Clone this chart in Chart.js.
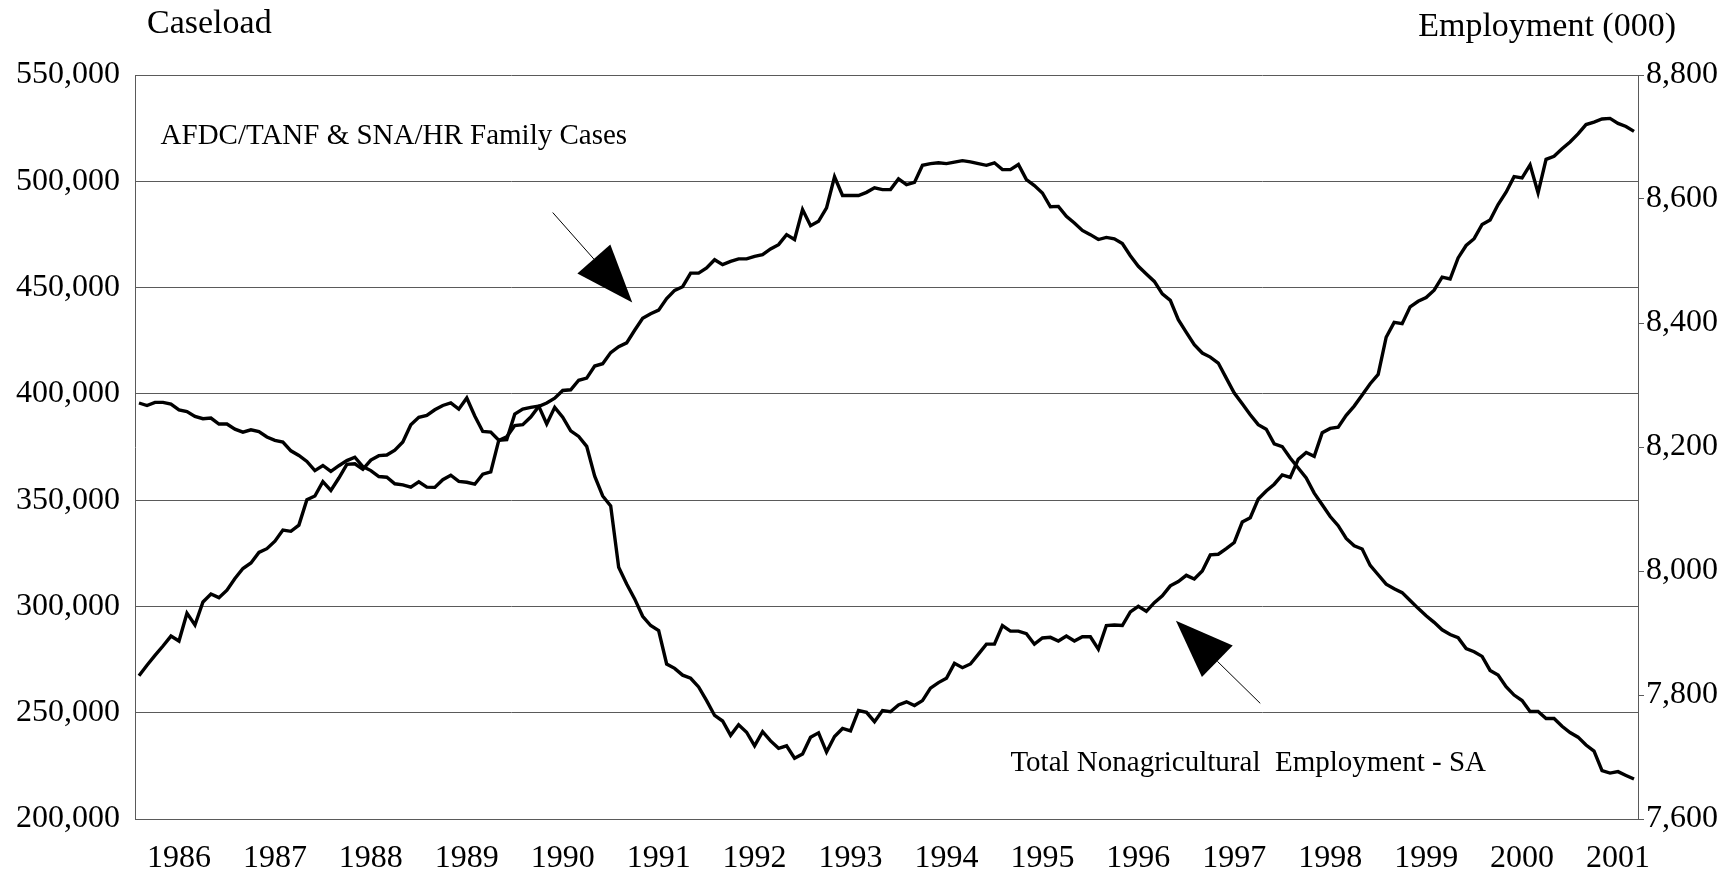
<!DOCTYPE html>
<html lang="en">

<head>
	<meta charset="UTF-8">
	<title>Caseload vs Employment</title>
	<script src="https://cdn.jsdelivr.net/npm/chart.js"></script>
	<style>
		html, body { margin: 0; padding: 0; background: #fff; }
		canvas { display: block; }
	</style>
</head>

<body>
	<canvas id="grafico" width="1735" height="872"></canvas>

	<script>
		// monthly data, first month is Aug 1985 (month index 7)
		const startYear = 1985;
		const startMonth = 7;

		// AFDC/TANF & SNA/HR family cases (left axis)
		const caseload = [
			395700, 394500, 396000, 396000, 395200, 392500, 391700, 389400, 388300, 388600,
			385800, 385800, 383400, 382000, 383100, 382300, 379700, 378100, 377300, 373200,
			371000, 368200, 363900, 366300, 363500, 366200, 368600, 370200, 365800, 363900,
			361100, 360800, 357700, 357200, 356100, 358600, 356100, 356000, 359600, 361700,
			358800, 358400, 357500, 362200, 363300, 378100, 379800, 385100, 385500, 389100,
			394100, 395700, 398000, 401600, 401900, 406400, 407400, 413100, 414200, 419400,
			422200, 424000, 429900, 435500, 437700, 439400, 444800, 448700, 450400, 456800,
			456800, 459200, 463100, 460800, 462300, 463500, 463500, 464700, 465500, 468200,
			470200, 474900, 472600, 486700, 479100, 481200, 487500, 502100, 493300, 493300,
			493300, 494800, 496900, 496100, 496100, 501100, 498400, 499500, 507500, 508300,
			508700, 508300, 509000, 509700, 509100, 508300, 507500, 508700, 505500, 505500,
			507900, 500800, 498000, 494500, 488000, 488200, 483500, 480400, 476900, 474900,
			472600, 473600, 472900, 470700, 465000, 460000, 456400, 452900, 447000, 444000,
			434900, 428900, 423100, 419200, 417300, 414500, 407400, 400400, 395300, 390200,
			385500, 383400, 376500, 375200, 369800, 365100, 360400, 353300, 347800, 342300,
			338000, 332000, 328500, 327000, 319300, 314900, 310500, 308300, 306500, 302800,
			299100, 295600, 292500, 289000, 286800, 285300, 280200, 278700, 276500, 269900,
			267700, 262200, 258300, 255700, 250600, 250600, 247300, 247300, 243600, 240700,
			238500, 234800, 231900, 222800, 221600, 222300, 220500, 218800
		];

		// total nonagricultural employment - SA, thousands (right axis)
		const employment = [
			7831, 7848, 7864, 7879, 7895, 7887, 7932, 7913, 7950, 7963,
			7957, 7969, 7988, 8004, 8013, 8030, 8036, 8048, 8066, 8064,
			8074, 8115, 8121, 8144, 8130, 8150, 8172, 8173, 8164, 8179,
			8186, 8187, 8195, 8208, 8236, 8248, 8251, 8260, 8267, 8271,
			8261, 8279, 8250, 8225, 8224, 8211, 8212, 8253, 8261, 8264,
			8266, 8237, 8264, 8248, 8226, 8217, 8201, 8153, 8121, 8105,
			8006, 7979, 7955, 7927, 7912, 7904, 7850, 7843, 7832, 7827,
			7813, 7791, 7767, 7758, 7735, 7752, 7740, 7718, 7741, 7726,
			7714, 7718, 7698, 7705, 7732, 7739, 7708, 7733, 7746, 7742,
			7775, 7772, 7757, 7775, 7773, 7784, 7789, 7783, 7791, 7811,
			7820, 7827, 7851, 7844, 7850, 7866, 7882, 7882, 7912, 7903,
			7903, 7899, 7882, 7892, 7893, 7887, 7895, 7887, 7894, 7894,
			7874, 7912, 7913, 7912, 7934, 7943, 7935, 7949, 7960, 7976,
			7983, 7993, 7987, 8000, 8026, 8027, 8036, 8046, 8079, 8086,
			8116, 8129, 8140, 8155, 8151, 8180, 8191, 8185, 8223, 8230,
			8232, 8251, 8266, 8284, 8302, 8317, 8377, 8401, 8399, 8426,
			8435, 8441, 8453, 8474, 8471, 8505, 8525, 8536, 8559, 8566,
			8591, 8611, 8636, 8634, 8655, 8610, 8664, 8669, 8681, 8692,
			8705, 8720, 8724, 8729, 8730, 8722, 8717, 8709
		];

		// axis ranges
		const caseloadAxis = { min: 200000, max: 550000, step: 50000 };
		const employmentAxis = { min: 7600, max: 8800, step: 200 };

		// category labels "YYYY-MM", the axis only shows the year in January
		const months = [];
		for (let i = 0; i < caseload.length; i++) {
			const m = (startMonth + i) % 12;
			const y = startYear + Math.floor((startMonth + i) / 12);
			months.push(y + '-' + String(m + 1).padStart(2, '0'));
		}

		const serif = '"Liberation Serif", "Times New Roman", serif';
		const gridColor = '#5a5a5a';

		// notes placed in data units (month index, caseload value)
		const notes = [
			{ text: 'AFDC/TANF & SNA/HR Family Cases', i: 2.7, v: 521000 },
			{ text: 'Total Nonagricultural  Employment - SA', i: 109, v: 226300 }
		];
		const arrows = [
			{ from: { i: 51.75, v: 485300 }, to: { i: 61.7, v: 443000 } },
			{ from: { i: 140.25, v: 254400 }, to: { i: 129.7, v: 293300 } }
		];

		function drawArrow(c, x0, y0, x1, y1) {
			const ang = Math.atan2(y1 - y0, x1 - x0);
			const len = 58, half = 22;
			const bx = x1 - len * Math.cos(ang);
			const by = y1 - len * Math.sin(ang);
			c.lineWidth = 1;
			c.beginPath();
			c.moveTo(x0, y0);
			c.lineTo(bx, by);
			c.stroke();
			c.beginPath();
			c.moveTo(x1, y1);
			c.lineTo(bx + half * Math.sin(ang), by - half * Math.cos(ang));
			c.lineTo(bx - half * Math.sin(ang), by + half * Math.cos(ang));
			c.closePath();
			c.fill();
		}

		const annotations = {
			id: 'annotations',
			afterDraw(chart) {
				const c = chart.ctx;
				const xs = chart.scales.x;
				const ys = chart.scales.y;
				const area = chart.chartArea;
				c.save();
				c.fillStyle = '#000';
				c.strokeStyle = '#000';

				c.font = '34px ' + serif;
				c.textBaseline = 'alphabetic';
				c.textAlign = 'left';
				c.fillText('Caseload', area.left + 12, 33);
				c.textAlign = 'right';
				c.fillText('Employment (000)', area.right + 38, 36);

				c.font = '29px ' + serif;
				c.textAlign = 'left';
				c.textBaseline = 'middle';
				notes.forEach(n => {
					c.fillText(n.text, xs.getPixelForValue(n.i), ys.getPixelForValue(n.v));
				});

				arrows.forEach(a => {
					drawArrow(c,
						xs.getPixelForValue(a.from.i), ys.getPixelForValue(a.from.v),
						xs.getPixelForValue(a.to.i), ys.getPixelForValue(a.to.v));
				});
				c.restore();
			}
		};

		new Chart(document.getElementById('grafico'), {
			type: 'line',
			data: {
				labels: months,
				datasets: [{
					label: 'AFDC/TANF & SNA/HR Family Cases',
					data: caseload,
					yAxisID: 'y',
					borderColor: '#000',
					borderWidth: 3.4,
					pointRadius: 0,
					tension: 0
				}, {
					label: 'Total Nonagricultural Employment - SA',
					data: employment,
					yAxisID: 'y1',
					borderColor: '#000',
					borderWidth: 3.4,
					pointRadius: 0,
					tension: 0
				}]
			},
			options: {
				responsive: false,
				animation: false,
				devicePixelRatio: 1,
				layout: { padding: { top: 75, left: 0, right: 0, bottom: 0 } },
				plugins: {
					legend: { display: false },
					tooltip: { enabled: false }
				},
				scales: {
					x: {
						type: 'category',
						offset: true,
						grid: { display: false },
						border: { display: true, color: gridColor, width: 1 },
						ticks: {
							autoSkip: false,
							maxRotation: 0,
							padding: 12,
							color: '#000',
							font: { family: serif, size: 32 },
							callback: function (value) {
								const lab = this.getLabelForValue(value);
								return lab.endsWith('-01') ? lab.slice(0, 4) : '';
							}
						},
						afterFit: scale => { scale.height = 53; }
					},
					y: {
						position: 'left',
						min: caseloadAxis.min,
						max: caseloadAxis.max,
						grid: { color: gridColor, lineWidth: 1, drawTicks: false },
						border: { display: true, color: gridColor, width: 1 },
						ticks: {
							stepSize: caseloadAxis.step,
							padding: 15,
							color: '#000',
							font: { family: serif, size: 32 },
							callback: v => v.toLocaleString('en-US')
						},
						afterFit: scale => { scale.width = 135; }
					},
					y1: {
						position: 'right',
						min: employmentAxis.min,
						max: employmentAxis.max,
						grid: { drawOnChartArea: false, color: gridColor, tickLength: 6 },
						border: { display: true, color: gridColor, width: 1 },
						ticks: {
							stepSize: employmentAxis.step,
							padding: 2,
							color: '#000',
							font: { family: serif, size: 32 },
							callback: v => v.toLocaleString('en-US')
						},
						afterFit: scale => { scale.width = 97; }
					}
				}
			},
			plugins: [annotations]
		});
	</script>
</body>

</html>
